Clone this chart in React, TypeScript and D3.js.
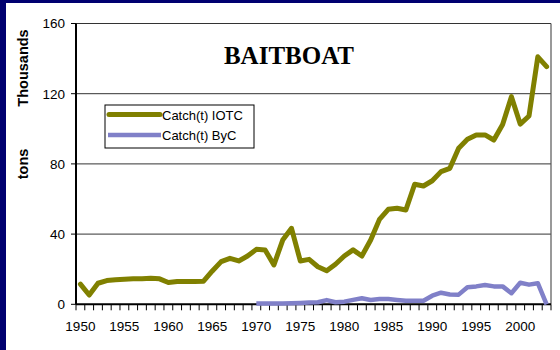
import React from "react";
import * as d3 from "d3";

const years: number[] = d3.range(1950, 2004);

const catchIOTC: number[] = [
  11.5, 5.3, 12, 13.5, 14, 14.3, 14.5, 14.5, 14.8, 14.5,
  12.4, 13, 13, 13, 13.2, 19, 24.3, 26.2, 24.7, 27.5,
  31.3, 31, 22.4, 36.6, 43.3, 24.7, 25.6, 21.4, 19.1, 22.8,
  27.5, 31, 27.5, 36.6, 48.4, 54.1, 54.7, 53.7, 68.4, 67.4,
  70.4, 75.6, 77.5, 88.9, 94, 96.5, 96.5, 93.6, 102.5, 118.3,
  102.7, 107.3, 141, 135.4,
];

// By-catch series begins in 1970
const byCYears: number[] = d3.range(1970, 2004);
const catchByC: number[] = [
  0.5, 0.5, 0.5, 0.5, 0.6, 0.8, 1.0, 1.2, 2.4, 1.2,
  1.5, 2.5, 3.4, 2.5, 3, 3, 2.5, 2, 2, 2,
  4.9, 6.6, 5.6, 5.5, 9.7, 10.2, 11, 10.2, 10.2, 6.3,
  12.3, 11.2, 12, 0,
];

const yTicks: number[] = [0, 40, 80, 120, 160];
const xLabelYears: number[] = [1950, 1955, 1960, 1965, 1970, 1975, 1980, 1985, 1990, 1995, 2000];

const seriesNames = ["Catch(t) IOTC", "Catch(t) ByC"];
const olive = "#808000";
const lavender = "#8080c8";

const W = 560;
const H = 350;
const plot = { left: 76, right: 551, top: 23.5, bottom: 304.3 };

export default function App() {
  const x = d3
    .scaleBand<number>()
    .domain(years)
    .range([plot.left, plot.right])
    .paddingInner(0)
    .paddingOuter(0);
  const xc = (yr: number) => (x(yr) as number) + x.bandwidth() / 2;
  const y = d3.scaleLinear().domain([0, 160]).range([plot.bottom, plot.top]);

  const line = d3
    .line<[number, number]>()
    .x((d) => xc(d[0]))
    .y((d) => y(d[1]));

  const iotcPts: [number, number][] = years.map((yr, i) => [yr, catchIOTC[i]]);
  const bycPts: [number, number][] = byCYears.map((yr, i) => [yr, catchByC[i]]);

  const sans = "'Liberation Sans', Arial, sans-serif";
  const serif = "'Liberation Serif', 'Times New Roman', serif";

  const tickEdges = years.map((yr) => x(yr) as number).concat([plot.right]);

  return (
    <svg
      width={W}
      height={H}
      style={{ position: "absolute", left: 0, top: 0 }}
    >
      <rect x={0} y={0} width={W} height={H} fill="#000070" />
      <rect x={6} y={3} width={W - 6} height={H - 3} fill="#ffffff" />

      {/* plot frame and gridlines */}
      {yTicks.slice(1).map((t) => (
        <line
          key={`g${t}`}
          x1={plot.left}
          x2={plot.right}
          y1={y(t)}
          y2={y(t)}
          stroke="#333"
          strokeWidth={1}
        />
      ))}
      <line
        x1={plot.right}
        x2={plot.right}
        y1={plot.top}
        y2={plot.bottom}
        stroke="#555"
        strokeWidth={1.2}
      />

      {/* y axis */}
      <line
        x1={plot.left}
        x2={plot.left}
        y1={plot.top}
        y2={plot.bottom}
        stroke="#000"
        strokeWidth={2}
      />
      {yTicks.map((t) => (
        <g key={`yt${t}`}>
          <line
            x1={plot.left - 5}
            x2={plot.left}
            y1={y(t)}
            y2={y(t)}
            stroke="#000"
            strokeWidth={1}
          />
          <text
            x={plot.left - 11}
            y={y(t)}
            dy="0.36em"
            textAnchor="end"
            fontFamily={sans}
            fontSize={13.5}
            fill="#000"
          >
            {t}
          </text>
        </g>
      ))}

      {/* x axis */}
      <line
        x1={plot.left}
        x2={plot.right}
        y1={plot.bottom}
        y2={plot.bottom}
        stroke="#000"
        strokeWidth={2}
      />
      {tickEdges.map((ex, i) => (
        <line
          key={`xt${i}`}
          x1={ex}
          x2={ex}
          y1={plot.bottom}
          y2={plot.bottom + 6}
          stroke="#000"
          strokeWidth={1}
        />
      ))}
      {xLabelYears.map((yr) => (
        <text
          key={`xl${yr}`}
          x={xc(yr)}
          y={331}
          textAnchor="middle"
          fontFamily={sans}
          fontSize={13.5}
          fill="#000"
        >
          {yr}
        </text>
      ))}

      {/* axis titles */}
      <text
        transform="translate(27.5,68) rotate(-90)"
        textAnchor="middle"
        fontFamily={sans}
        fontWeight="bold"
        fontSize={14.5}
        fill="#000"
      >
        Thousands
      </text>
      <text
        transform="translate(27.5,164) rotate(-90)"
        textAnchor="middle"
        fontFamily={sans}
        fontWeight="bold"
        fontSize={14.5}
        fill="#000"
      >
        tons
      </text>

      {/* chart title */}
      <text
        x={289}
        y={64}
        textAnchor="middle"
        fontFamily={serif}
        fontWeight="bold"
        fontSize={25}
        fill="#000"
      >
        BAITBOAT
      </text>

      {/* series */}
      <path
        d={line(bycPts) ?? ""}
        fill="none"
        stroke={lavender}
        strokeWidth={4.5}
        strokeLinejoin="round"
      />
      <path
        d={line(iotcPts) ?? ""}
        fill="none"
        stroke={olive}
        strokeWidth={5}
        strokeLinejoin="round"
        strokeLinecap="round"
      />

      {/* legend */}
      <rect
        x={105}
        y={105}
        width={149}
        height={43}
        fill="#fff"
        stroke="#000"
        strokeWidth={1}
      />
      <line x1={109} x2={160} y1={114.5} y2={114.5} stroke={olive} strokeWidth={5} strokeLinecap="round" />
      <line x1={108} x2={161} y1={135} y2={135} stroke={lavender} strokeWidth={4.5} />
      <text x={162} y={119.5} fontFamily={sans} fontSize={13} fill="#000">
        {seriesNames[0]}
      </text>
      <text x={162} y={140} fontFamily={sans} fontSize={13} fill="#000">
        {seriesNames[1]}
      </text>
    </svg>
  );
}
